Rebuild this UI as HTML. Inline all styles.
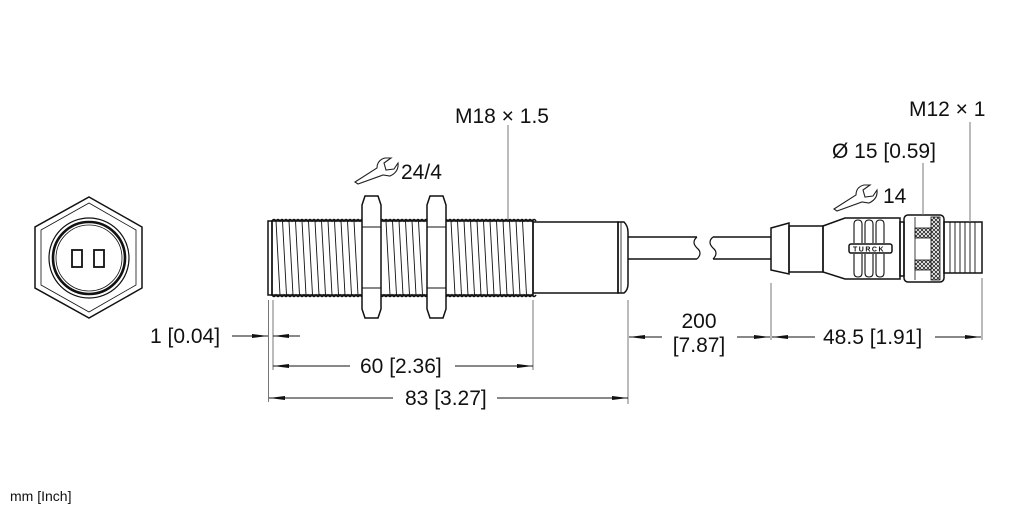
<!DOCTYPE html>
<html><head><meta charset="utf-8"><style>
html,body{margin:0;padding:0;background:#fff}
svg{display:block}
text{font-family:"Liberation Sans",sans-serif;fill:#111}
</style></head><body>
<svg width="1022" height="511" viewBox="0 0 1022 511" xmlns="http://www.w3.org/2000/svg">
<defs>
<marker id="a" markerWidth="16" markerHeight="6" refX="16" refY="3" orient="auto" markerUnits="userSpaceOnUse"><path d="M0,1 L16,3 L0,5 Z" fill="#111"/></marker>
<pattern id="knurl" width="4" height="4" patternUnits="userSpaceOnUse"><rect width="4" height="4" fill="#fff"/><path d="M0,0 L4,4 M4,0 L0,4" stroke="#222" stroke-width="0.8"/></pattern>
</defs>
<g fill="none" stroke="#111" stroke-width="1.5">
<!-- front view -->
<polygon points="89,197 142,227 142,288 89,318 35,288 35,227"/>
<polygon points="89,203 136,230 136,285 89,312 41,285 41,230" stroke-width="0.8"/>
<circle cx="89" cy="258" r="40" stroke-width="1.2"/>
<circle cx="89" cy="258" r="36" stroke-width="2.6"/>
<circle cx="89" cy="258" r="33" stroke-width="0.8"/>
<rect x="72" y="250" width="10" height="17" stroke-width="1.8"/>
<rect x="94" y="250" width="10" height="17" stroke-width="1.8"/>

<!-- sensor thread -->
<rect x="268" y="221" width="4" height="74"/>
<rect x="272" y="221" width="261" height="74"/>
<path d="M272,221 q2,-3 4,0 q2,-3 4,0 q2,-3 4,0 q2,-3 4,0 q2,-3 4,0 q2,-3 4,0 q2,-3 4,0 q2,-3 4,0 q2,-3 4,0 q2,-3 4,0 q2,-3 4,0 q2,-3 4,0 q2,-3 4,0 q2,-3 4,0 q2,-3 4,0 q2,-3 4,0 q2,-3 4,0 q2,-3 4,0 q2,-3 4,0 q2,-3 4,0 q2,-3 4,0 q2,-3 4,0 q2,-3 4,0 q2,-3 4,0 q2,-3 4,0 q2,-3 4,0 q2,-3 4,0 q2,-3 4,0 q2,-3 4,0 q2,-3 4,0 q2,-3 4,0 q2,-3 4,0 q2,-3 4,0 q2,-3 4,0 q2,-3 4,0 q2,-3 4,0 q2,-3 4,0 q2,-3 4,0 q2,-3 4,0 q2,-3 4,0 q2,-3 4,0 q2,-3 4,0 q2,-3 4,0 q2,-3 4,0 q2,-3 4,0 q2,-3 4,0 q2,-3 4,0 q2,-3 4,0 q2,-3 4,0 q2,-3 4,0 q2,-3 4,0 q2,-3 4,0 q2,-3 4,0 q2,-3 4,0 q2,-3 4,0 q2,-3 4,0 q2,-3 4,0 q2,-3 4,0 q2,-3 4,0 q2,-3 4,0 q2,-3 4,0 q2,-3 4,0 q2,-3 4,0 q2,-3 4,0 q2,-3 4,0 q2,-3 4,0"/>
<path d="M272,295 q2,3 4,0 q2,3 4,0 q2,3 4,0 q2,3 4,0 q2,3 4,0 q2,3 4,0 q2,3 4,0 q2,3 4,0 q2,3 4,0 q2,3 4,0 q2,3 4,0 q2,3 4,0 q2,3 4,0 q2,3 4,0 q2,3 4,0 q2,3 4,0 q2,3 4,0 q2,3 4,0 q2,3 4,0 q2,3 4,0 q2,3 4,0 q2,3 4,0 q2,3 4,0 q2,3 4,0 q2,3 4,0 q2,3 4,0 q2,3 4,0 q2,3 4,0 q2,3 4,0 q2,3 4,0 q2,3 4,0 q2,3 4,0 q2,3 4,0 q2,3 4,0 q2,3 4,0 q2,3 4,0 q2,3 4,0 q2,3 4,0 q2,3 4,0 q2,3 4,0 q2,3 4,0 q2,3 4,0 q2,3 4,0 q2,3 4,0 q2,3 4,0 q2,3 4,0 q2,3 4,0 q2,3 4,0 q2,3 4,0 q2,3 4,0 q2,3 4,0 q2,3 4,0 q2,3 4,0 q2,3 4,0 q2,3 4,0 q2,3 4,0 q2,3 4,0 q2,3 4,0 q2,3 4,0 q2,3 4,0 q2,3 4,0 q2,3 4,0 q2,3 4,0 q2,3 4,0 q2,3 4,0 q2,3 4,0"/>
<g stroke-width="0.9">
<path d="M276,221 L280,295 M282.5,221 L286.5,295 M289,221 L293,295 M295.5,221 L299.5,295 M302,221 L306,295 M308.5,221 L312.5,295 M315,221 L319,295 M321.5,221 L325.5,295 M328,221 L332,295 M334.5,221 L338.5,295 M341,221 L345,295 M347.5,221 L351.5,295 M354,221 L358,295 M386,221 L390,295 M392.5,221 L396.5,295 M399,221 L403,295 M405.5,221 L409.5,295 M412,221 L416,295 M418.5,221 L422.5,295 M451,221 L455,295 M457.5,221 L461.5,295 M464,221 L468,295 M470.5,221 L474.5,295 M477,221 L481,295 M483.5,221 L487.5,295 M490,221 L494,295 M496.5,221 L500.5,295 M503,221 L507,295 M509.5,221 L513.5,295 M516,221 L520,295 M522.5,221 L526.5,295"/>
</g>
<!-- nuts -->
<g fill="#fff">
<path d="M365,196 L378,196 L381,205 L381,309 L378,318 L365,318 L362,309 L362,205 Z"/>
<path d="M430,196 L443,196 L446,205 L446,309 L443,318 L430,318 L427,309 L427,205 Z"/>
</g>
<path d="M362,227 L381,227 M362,288 L381,288 M427,227 L446,227 M427,288 L446,288" stroke-width="0.9"/>
<!-- body -->
<rect x="533" y="222" width="85" height="71"/>
<path d="M618,222 L624,222 Q628,226 628,232 L628,284 Q628,290 624,293 L618,293 Z"/>
<path d="M621,222 L621,293" stroke-width="0.8"/>
<!-- cable -->
<path d="M628,237 L697,237 M628,259 L697,259"/>
<path d="M697,237 q-6,5 0,11 q6,5 0,11" stroke-width="1.2"/>
<path d="M713,237 q-6,5 0,11 q6,5 0,11" stroke-width="1.2"/>
<path d="M713,237 L771,237 M713,259 L771,259"/>
<!-- connector -->
<path d="M771,228 L789,223 L789,274 L771,270 Z"/>
<rect x="789" y="226" width="34" height="46"/>
<path d="M823,226 L845,218 L900,218 L900,279 L845,279 L823,272 Z"/>
<g stroke-width="1.1">
<path d="M854,243 L854,224 Q854,220 858,220 Q862,220 862,224 L862,243 M865,243 L865,224 Q865,220 869,220 Q873,220 873,224 L873,243 M876,243 L876,224 Q876,220 880,220 Q884,220 884,224 L884,243"/>
<path d="M854,254 L854,273 Q854,277 858,277 Q862,277 862,273 L862,254 M865,254 L865,273 Q865,277 869,277 Q873,277 873,273 L873,254 M876,254 L876,273 Q876,277 880,277 Q884,277 884,273 L884,254"/>
</g>
<rect x="849" y="244" width="43" height="9" rx="2" fill="#fff"/>
<rect x="900" y="222" width="4" height="54"/>
<rect x="904" y="215" width="40" height="67" rx="4"/>
<rect x="931" y="217" width="9" height="63" fill="url(#knurl)" stroke-width="0.8"/>
<rect x="915" y="228" width="16" height="10" fill="url(#knurl)" stroke-width="0.8"/>
<rect x="915" y="260" width="16" height="10" fill="url(#knurl)" stroke-width="0.8"/>
<path d="M915,217 L915,280" stroke-width="0.8"/>
<rect x="944" y="222" width="38" height="51"/>
<path d="M950,222 L950,273 M955,222 L955,273 M960,222 L960,273 M965,222 L965,273 M970,222 L970,273 M975,222 L975,273" stroke-width="0.9"/>
</g>
<text x="853" y="251.5" font-size="7" font-weight="bold" text-anchor="start" letter-spacing="1.5">TURCK</text>

<!-- leaders -->
<g stroke="#777" stroke-width="1" fill="none">
<path d="M508,125 L508,220"/>
<path d="M923,163 L923,215"/>
<path d="M970,122 L970,222"/>
<path d="M268.5,300 L268.5,402 M273,300 L273,370 M533,300 L533,370 M628,300 L628,404 M771,283 L771,340 M982,278 L982,340"/>
</g>
<!-- wrenches -->
<g fill="none" stroke="#222" stroke-width="1.1">
<path d="M355,182 L377,168 Q377,160 385,158 L391,158 L384,163 L386,170 L394,169 L398,163 Q399,172 390,176 L383,175 L358,184 Z"/>
<path d="M834,209 L856,195 Q856,187 864,185 L870,185 L863,190 L865,197 L873,196 L877,190 Q878,199 869,203 L862,202 L837,211 Z"/>
</g>
<!-- dimension arrows -->
<g stroke="#111" stroke-width="1" fill="none">
<path d="M232,336 L268,336" marker-end="url(#a)"/>
<path d="M300,336 L273,336" marker-end="url(#a)"/>
<path d="M350,366 L273,366" marker-end="url(#a)"/>
<path d="M455,366 L533,366" marker-end="url(#a)"/>
<path d="M393,398 L269,398" marker-end="url(#a)"/>
<path d="M497,398 L628,398" marker-end="url(#a)"/>
<path d="M662,337 L629,337" marker-end="url(#a)"/>
<path d="M737,337 L770,337" marker-end="url(#a)"/>
<path d="M815,337 L772,337" marker-end="url(#a)"/>
<path d="M935,337 L981,337" marker-end="url(#a)"/>
</g>
<g font-size="21">
<text x="455" y="123">M18 × 1.5</text>
<text x="401" y="179">24/4</text>
<text x="909" y="116">M12 × 1</text>
<text x="832" y="158">Ø 15 [0.59]</text>
<text x="883" y="203">14</text>
<text x="150" y="343">1 [0.04]</text>
<text x="360" y="373">60 [2.36]</text>
<text x="405" y="405">83 [3.27]</text>
<text x="699" y="328" text-anchor="middle">200</text>
<text x="699" y="352" text-anchor="middle">[7.87]</text>
<text x="823" y="344">48.5 [1.91]</text>
</g>
<text x="10" y="501" font-size="14">mm [Inch]</text>
</svg>
</body></html>
